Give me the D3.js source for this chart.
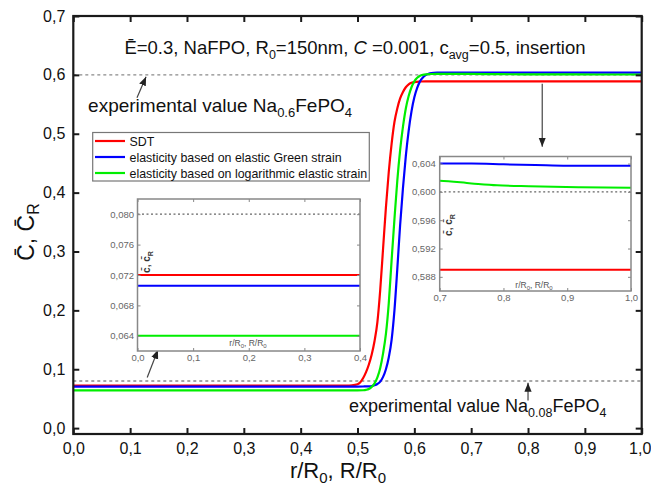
<!DOCTYPE html>
<html>
<head>
<meta charset="utf-8">
<script src="https://cdn.jsdelivr.net/npm/d3@7"></script>
<style>
  body { margin: 0; background: #fff; }
  text { font-family: "Liberation Sans", Arial, sans-serif; }
</style>
</head>
<body>
<svg id="chart" width="651" height="486"></svg>
<script>
// ---- data -------------------------------------------------------------
const seriesNames = [
  "SDT",
  "elasticity based on elastic Green strain",
  "elasticity based on logarithmic elastic strain"
];
const seriesColors = ["#ff0000", "#0000ff", "#00ee00"];

// [r/R0, concentration]
const sdtCurve = [
  [0, 0.0720], [0.1, 0.0720], [0.2, 0.0720], [0.3, 0.0720], [0.4, 0.0720],
  [0.45, 0.0721], [0.48, 0.0723], [0.49, 0.0727], [0.50, 0.0745], [0.505, 0.078],
  [0.51, 0.085], [0.515, 0.095], [0.52, 0.108], [0.525, 0.125], [0.53, 0.148],
  [0.535, 0.180], [0.54, 0.235], [0.545, 0.305], [0.55, 0.375], [0.555, 0.435],
  [0.56, 0.483], [0.565, 0.520], [0.57, 0.543], [0.575, 0.560], [0.58, 0.571],
  [0.585, 0.579], [0.59, 0.584], [0.595, 0.5865], [0.60, 0.5878], [0.61, 0.5887],
  [0.62, 0.5890], [0.7, 0.5890], [0.8, 0.5890], [0.9, 0.5890], [1.0, 0.5890]
];
const greenStrainCurve = [
  [0, 0.0706], [0.1, 0.0706], [0.2, 0.0706], [0.3, 0.0706], [0.4, 0.0706],
  [0.45, 0.0706], [0.5, 0.0706], [0.51, 0.0707], [0.52, 0.0710], [0.525, 0.0716],
  [0.53, 0.0728], [0.535, 0.075], [0.54, 0.079], [0.545, 0.087], [0.55, 0.100],
  [0.555, 0.120], [0.56, 0.150], [0.565, 0.200], [0.57, 0.270], [0.575, 0.345],
  [0.58, 0.408], [0.585, 0.462], [0.59, 0.505], [0.595, 0.538], [0.60, 0.562],
  [0.605, 0.578], [0.61, 0.589], [0.615, 0.5955], [0.62, 0.5995], [0.625, 0.6018],
  [0.63, 0.6030], [0.64, 0.6038], [0.65, 0.6040], [0.7, 0.6040], [0.75, 0.6040],
  [0.8, 0.6039], [0.85, 0.6038], [0.9, 0.6037], [1.0, 0.6037]
];
const logStrainCurve = [
  [0, 0.0640], [0.1, 0.0640], [0.2, 0.0640], [0.3, 0.0640], [0.4, 0.0640],
  [0.45, 0.0640], [0.5, 0.0641], [0.51, 0.0643], [0.515, 0.0650], [0.52, 0.0665],
  [0.525, 0.070], [0.53, 0.076], [0.535, 0.086], [0.54, 0.102], [0.545, 0.127],
  [0.55, 0.160], [0.555, 0.212], [0.56, 0.285], [0.565, 0.355], [0.57, 0.420],
  [0.575, 0.472], [0.58, 0.512], [0.585, 0.543], [0.59, 0.564], [0.595, 0.579],
  [0.60, 0.589], [0.605, 0.595], [0.61, 0.5985], [0.615, 0.6002], [0.62, 0.6010],
  [0.63, 0.6015], [0.65, 0.6016], [0.7, 0.60156], [0.75, 0.6012], [0.79, 0.60094],
  [0.84, 0.6008], [0.92, 0.60066], [1.0, 0.6006]
];
const seriesData = [sdtCurve, greenStrainCurve, logStrainCurve];

const experimentalLevels = [0.6, 0.08];

const mainXTicks = [0, 0.1, 0.2, 0.3, 0.4, 0.5, 0.6, 0.7, 0.8, 0.9, 1.0];
const mainYTicks = [0, 0.1, 0.2, 0.3, 0.4, 0.5, 0.6, 0.7];
const leftInsetXTicks = [0, 0.1, 0.2, 0.3, 0.4];
const leftInsetYTicks = [0.064, 0.068, 0.072, 0.076, 0.080];
const rightInsetXTicks = [0.7, 0.8, 0.9, 1.0];
const rightInsetYTicks = [0.588, 0.592, 0.596, 0.600, 0.604];

// ---- helpers ----------------------------------------------------------
const svg = d3.select("#chart");
const comma = f => v => d3.format(f)(v).replace(".", ",");

// text made of plain / subscript / italic pieces
function richText(sel, parts, size, subSize, shift) {
  let down = false;
  parts.forEach(p => {
    const ts = sel.append("tspan").text(p.t);
    if (p.sub && !down) { ts.attr("dy", shift); down = true; }
    else if (!p.sub && down) { ts.attr("dy", -shift); down = false; }
    ts.attr("font-size", p.sub ? subSize : size);
    if (p.italic) ts.attr("font-style", "italic");
    if (p.bold) ts.attr("font-weight", "bold");
  });
  return sel;
}

// ---- main panel -------------------------------------------------------
const x = d3.scaleLinear().domain([0, 1]).range([73.3, 641.7]);
const y = d3.scaleLinear().domain([-0.01, 0.7]).range([434, 16]);

const line = (xs, ys) => d3.line().x(d => xs(d[0])).y(d => ys(d[1])).curve(d3.curveMonotoneX);

const defs = svg.append("defs");
defs.append("clipPath").attr("id", "clipMain").append("rect")
  .attr("x", x(0)).attr("y", y(0.7)).attr("width", x(1) - x(0)).attr("height", y(-0.01) - y(0.7));
defs.append("marker").attr("id", "arrowHead")
  .attr("viewBox", "0 0 10 10").attr("refX", 10).attr("refY", 5)
  .attr("markerWidth", 9).attr("markerHeight", 9).attr("markerUnits", "userSpaceOnUse")
  .attr("orient", "auto")
  .append("path").attr("d", "M0,1 L10,5 L0,9 Z").attr("fill", "#222");

// experimental reference levels
svg.append("g").selectAll("line").data(experimentalLevels).join("line")
  .attr("x1", x(0)).attr("x2", x(1))
  .attr("y1", d => y(d)).attr("y2", d => y(d))
  .attr("stroke", "#8a8a8a").attr("stroke-width", 1.3).attr("stroke-dasharray", "3,3");

// curves
svg.append("g").attr("clip-path", "url(#clipMain)")
  .selectAll("path").data(seriesData).join("path")
  .attr("d", d => line(x, y)(d))
  .attr("fill", "none")
  .attr("stroke", (d, i) => seriesColors[i])
  .attr("stroke-width", 2.2);

// axes with inward ticks on all four sides
function frameAxes(xs, ys, xt, yt, opt) {
  const g = svg.append("g");
  const [x0, x1] = xs.range();
  const [y0, y1] = ys.range();
  const bottom = g.append("g").attr("transform", `translate(0,${y0})`)
    .call(d3.axisBottom(xs).tickValues(xt).tickSize(-opt.tick).tickPadding(opt.padX).tickFormat(opt.xFmt));
  const left = g.append("g").attr("transform", `translate(${x0},0)`)
    .call(d3.axisLeft(ys).tickValues(yt).tickSize(-opt.tick).tickPadding(opt.padY).tickFormat(opt.yFmt));
  const top = g.append("g").attr("transform", `translate(0,${y1})`)
    .call(d3.axisTop(xs).tickValues(xt).tickSize(-opt.tick).tickFormat(""));
  const right = g.append("g").attr("transform", `translate(${x1},0)`)
    .call(d3.axisRight(ys).tickValues(yt).tickSize(-opt.tick).tickFormat(""));
  [bottom, left, top, right].forEach(a => {
    a.select(".domain").remove();
    a.selectAll(".tick line").attr("stroke", opt.color).attr("stroke-width", opt.tickWidth);
    a.selectAll("text").attr("font-size", opt.font).attr("fill", opt.textColor)
      .attr("font-family", '"Liberation Sans", Arial, sans-serif');
  });
  g.append("rect").attr("x", x0).attr("y", y1).attr("width", x1 - x0).attr("height", y0 - y1)
    .attr("fill", "none").attr("stroke", opt.color).attr("stroke-width", opt.frame);
  return { g, bottom, left };
}

const mainAxes = frameAxes(x, y, mainXTicks, mainYTicks, {
  tick: 6, padX: 8.5, padY: 8, xFmt: comma(".1f"), yFmt: comma(".1f"),
  color: "#1a1a1a", tickWidth: 2, font: 16, textColor: "#111", frame: 2.2
});
// keep the last x label inside the page edge
mainAxes.bottom.selectAll(".tick:last-of-type text").attr("dx", -2);

// axis titles
richText(svg.append("text").attr("x", 338).attr("y", 478).attr("text-anchor", "middle").attr("fill", "#111"),
  [{t: "r/R"}, {t: "0", sub: true}, {t: ", R/R"}, {t: "0", sub: true}], 22, 15, 5);

richText(svg.append("text").attr("transform", "translate(34,232) rotate(-90)")
  .attr("text-anchor", "middle").attr("fill", "#111"),
  [{t: "C\u0304, C\u0304"}, {t: "R", sub: true}], 23, 16, 5);

// parameter line
richText(svg.append("text").attr("x", 355).attr("y", 54).attr("text-anchor", "middle").attr("fill", "#111"),
  [{t: "\u0112=0.3, NaFPO, R"}, {t: "0", sub: true}, {t: "=150nm, "}, {t: "C", italic: true},
   {t: " =0.001, c"}, {t: "avg", sub: true}, {t: "=0.5, insertion"}], 18.5, 12.5, 5);

// experimental value labels and arrows
richText(svg.append("text").attr("x", x(0.026)).attr("y", y(0.537)).attr("fill", "#111"),
  [{t: "experimental value Na"}, {t: "0.6", sub: true}, {t: "FePO"}, {t: "4", sub: true}], 19, 13, 5);
richText(svg.append("text").attr("x", x(0.485)).attr("y", y(0.0274)).attr("fill", "#111"),
  [{t: "experimental value Na"}, {t: "0.08", sub: true}, {t: "FePO"}, {t: "4", sub: true}], 18, 12.5, 5);

const arrows = [
  [[0.112, 0.561], [0.128, 0.597]],
  [[0.130, 0.086], [0.149, 0.133]],
  [[0.825, 0.585], [0.825, 0.478]],
  [[0.800, 0.047], [0.800, 0.077]]
];
svg.append("g").selectAll("line").data(arrows).join("line")
  .attr("x1", d => x(d[0][0])).attr("y1", d => y(d[0][1]))
  .attr("x2", d => x(d[1][0])).attr("y2", d => y(d[1][1]))
  .attr("stroke", "#444").attr("stroke-width", 1.2)
  .attr("marker-end", "url(#arrowHead)");

// ---- legend ------------------------------------------------------------
const legend = svg.append("g");
legend.append("rect").attr("x", 92.7).attr("y", 132.5).attr("width", 276.6).attr("height", 48.5)
  .attr("fill", "#fff").attr("stroke", "#777").attr("stroke-width", 1.2);
const rowY = [141, 157, 173];
seriesNames.forEach((name, i) => {
  legend.append("line").attr("x1", 95).attr("x2", 125).attr("y1", rowY[i]).attr("y2", rowY[i])
    .attr("stroke", seriesColors[i]).attr("stroke-width", 2.2);
  legend.append("text").attr("x", 129.5).attr("y", rowY[i] + 4.5)
    .attr("font-size", 12.4).attr("fill", "#111").text(name);
});

// ---- insets ------------------------------------------------------------
function inset(id, xs, ys, xt, yt, level, padX, padY, yLabelPos, xLabelPos) {
  const [x0, x1] = xs.range();
  const [y0, y1] = ys.range();
  svg.append("rect").attr("x", x0).attr("y", y1).attr("width", x1 - x0).attr("height", y0 - y1).attr("fill", "#fff");
  defs.append("clipPath").attr("id", id).append("rect")
    .attr("x", x0).attr("y", y1).attr("width", x1 - x0).attr("height", y0 - y1);
  const g = svg.append("g").attr("clip-path", `url(#${id})`);
  g.append("line").attr("x1", x0).attr("x2", x1).attr("y1", ys(level)).attr("y2", ys(level))
    .attr("stroke", "#666").attr("stroke-width", 1.2).attr("stroke-dasharray", "2,2.5");
  g.selectAll("path").data(seriesData).join("path")
    .attr("d", d => line(xs, ys)(d))
    .attr("fill", "none").attr("stroke", (d, i) => seriesColors[i]).attr("stroke-width", 2);
  frameAxes(xs, ys, xt, yt, {
    tick: 3, padX: padX, padY: padY, xFmt: comma(".1f"), yFmt: comma(".3f"),
    color: "#888", tickWidth: 1, font: 9.5, textColor: "#666", frame: 1.5
  });
  richText(svg.append("text").attr("transform", `translate(${yLabelPos[0]},${yLabelPos[1]}) rotate(-90)`)
    .attr("text-anchor", "middle").attr("fill", "#333"),
    [{t: "c\u0304, c\u0304", bold: true}, {t: "R", sub: true, bold: true}], 10, 7, 2.5);
  richText(svg.append("text").attr("x", xLabelPos[0]).attr("y", xLabelPos[1]).attr("text-anchor", "middle").attr("fill", "#555"),
    [{t: "r/R"}, {t: "0", sub: true}, {t: ", R/R"}, {t: "0", sub: true}], 8.5, 6, 2);
}

const xl = d3.scaleLinear().domain([0, 0.4]).range([137.5, 360]);
const yl = d3.scaleLinear().domain([0.062, 0.082]).range([351, 199]);
inset("clipLeft", xl, yl, leftInsetXTicks, leftInsetYTicks, experimentalLevels[1], 3, 3.5, [150, 262], [248, 346]);

const xr = d3.scaleLinear().domain([0.7, 1.0]).range([439.7, 631]);
const yr = d3.scaleLinear().domain([0.586, 0.605]).range([291, 156.5]);
inset("clipRight", xr, yr, rightInsetXTicks, rightInsetYTicks, experimentalLevels[0], 3.5, 4, [452, 225], [534, 288]);
</script>
</body>
</html>
